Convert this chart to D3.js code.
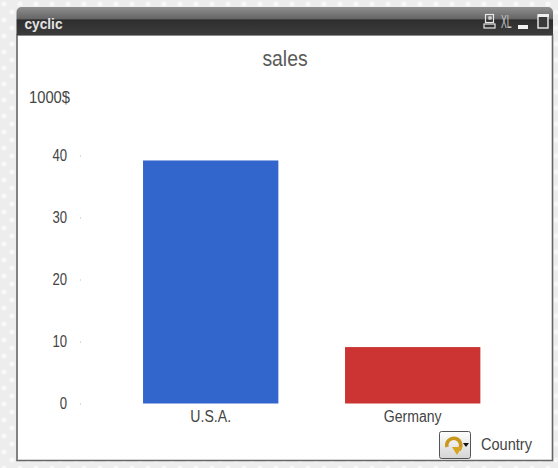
<!DOCTYPE html>
<html>
<head>
<meta charset="utf-8">
<script src="https://cdn.jsdelivr.net/npm/d3@7/dist/d3.min.js"></script>
<style>
html,body{margin:0;padding:0;background:#eeeeee;overflow:hidden}
svg{display:block}
text{font-family:"Liberation Sans",Arial,sans-serif}
</style>
</head>
<body>
<svg id="chart" width="558" height="468"></svg>
<script>
const categories = ["U.S.A.", "Germany"];
const salesValues = [39.2, 9.1];
const barColors = ["#3366cc", "#cc3333"];
const yTicks = [0, 10, 20, 30, 40];
const chartTitle = "sales";
const yUnit = "1000$";
const windowCaption = "cyclic";
const cycleField = "Country";

const svg = d3.select("#chart");
const defs = svg.append("defs");

// Narrow the glyphs of a selection of labels to a share of their natural width
function condense(sel, share) {
  sel.each(function () {
    const w = this.getComputedTextLength();
    d3.select(this).attr("textLength", w * share).attr("lengthAdjust", "spacingAndGlyphs");
  });
}

// Dotted page backdrop
const dots = defs.append("pattern").attr("id", "dots").attr("patternUnits", "userSpaceOnUse")
  .attr("width", 16).attr("height", 16);
dots.append("rect").attr("width", 16).attr("height", 16).attr("fill", "#ededed");
dots.append("circle").attr("cx", 4).attr("cy", 4).attr("r", 2.6).attr("fill", "#f8f8f8");
dots.append("circle").attr("cx", 12).attr("cy", 12).attr("r", 2.6).attr("fill", "#f8f8f8");
svg.append("rect").attr("width", 558).attr("height", 468).attr("fill", "url(#dots)");

// Caption bar gradient: pale sheen on top, near-black lower half
const grad = defs.append("linearGradient").attr("id", "caption").attr("x1", 0).attr("x2", 0).attr("y1", 0).attr("y2", 1);
[[0, "#8f8f8f"], [0.42, "#666666"], [0.46, "#2e2e2e"], [1, "#3c3c3c"]].forEach(([o, c]) =>
  grad.append("stop").attr("offset", o).attr("stop-color", c));

// Window body and frame
svg.append("path").attr("d", "M17,35V460.5H552.5V35Z")
  .attr("fill", "#fff").attr("stroke", "#666").attr("stroke-width", 1.6);
svg.append("path").attr("d", "M16.5,35V12a5,5 0 0 1 5,-5H548a5,5 0 0 1 5,5V35Z").attr("fill", "url(#caption)");
svg.append("text").attr("x", 24.5).attr("y", 29).attr("fill", "#e4e4e4")
  .attr("font-size", 15).attr("font-weight", "bold").attr("font-family", "'DejaVu Sans',sans-serif")
  .attr("textLength", 38).attr("lengthAdjust", "spacingAndGlyphs").text(windowCaption);

// Caption buttons
const icons = svg.append("g").attr("fill", "none").attr("stroke", "#e6e6e6").attr("stroke-width", 1.2);
icons.append("rect").attr("x", 485.5).attr("y", 14.5).attr("width", 8).attr("height", 8);
icons.append("rect").attr("x", 484).attr("y", 24).attr("width", 11).attr("height", 4);
icons.append("rect").attr("x", 489).attr("y", 17).attr("width", 2).attr("height", 2);
svg.append("text").attr("transform", "translate(501,28) scale(0.62,1.28)").attr("fill", "#c4c4c4")
  .attr("font-size", 14).text("XL");
svg.append("rect").attr("x", 518).attr("y", 25).attr("width", 10).attr("height", 4).attr("fill", "#f2f2f2");
svg.append("rect").attr("x", 538).attr("y", 15).attr("width", 10).attr("height", 13)
  .attr("fill", "#3a3a3a").attr("stroke", "#eee").attr("stroke-width", 1.4);
svg.append("rect").attr("x", 538).attr("y", 14).attr("width", 11).attr("height", 3).attr("fill", "#eee");

// Scales
const y = d3.scaleLinear().domain([0, 40]).range([403.5, 155.5]);
const x = d3.scaleBand().domain(categories).range([109.7, 513.7]).paddingInner(0.33).paddingOuter(0.165);

// Title and unit label
svg.append("text").attr("x", 285).attr("y", 66).attr("text-anchor", "middle")
  .attr("font-size", 22).attr("fill", "#5a5a5a").text(chartTitle).call(condense, 0.88);
svg.append("text").attr("x", 29).attr("y", 103).attr("font-size", 16).attr("fill", "#444")
  .attr("textLength", 41).attr("lengthAdjust", "spacingAndGlyphs").text(yUnit);

// Bars
svg.append("g").selectAll("rect").data(categories).join("rect")
  .attr("x", d => x(d)).attr("width", x.bandwidth())
  .attr("y", (d, i) => y(salesValues[i]))
  .attr("height", (d, i) => y(0) - y(salesValues[i]))
  .attr("fill", (d, i) => barColors[i]);

// Value axis
const yAxis = svg.append("g").attr("transform", "translate(81,0)")
  .call(d3.axisLeft(y).tickValues(yTicks).tickSize(1).tickPadding(13));
yAxis.select(".domain").remove();
yAxis.selectAll("line").attr("stroke", "#bbb");
yAxis.selectAll("text").attr("font-size", 16).attr("fill", "#444").call(condense, 0.82);

// Category axis
const xAxis = svg.append("g").attr("transform", "translate(0,403.5)")
  .call(d3.axisBottom(x).tickSize(0).tickPadding(7));
xAxis.select(".domain").remove();
xAxis.selectAll("text").attr("font-size", 16).attr("fill", "#444").call(condense, 0.88);

// Cycle-group control
const ctl = svg.append("g");
const btn = defs.append("linearGradient").attr("id", "btn").attr("x1", 0).attr("x2", 0).attr("y1", 0).attr("y2", 1);
btn.append("stop").attr("offset", 0).attr("stop-color", "#ffffff");
btn.append("stop").attr("offset", 1).attr("stop-color", "#d4d4d4");
ctl.append("rect").attr("x", 439.5).attr("y", 431.5).attr("width", 31).attr("height", 27).attr("rx", 2)
  .attr("fill", "url(#btn)").attr("stroke", "#555");
ctl.append("path").attr("d", "M447,447a7,7 0 1 1 12,3").attr("fill", "none").attr("stroke", "#c9971c").attr("stroke-width", 3.5);
ctl.append("path").attr("d", "M452,447h10l-5,8Z").attr("fill", "#d9a520");
ctl.append("path").attr("d", "M463,443h6l-3,4Z").attr("fill", "#111");
svg.append("text").attr("x", 481).attr("y", 450).attr("font-size", 16).attr("fill", "#444")
  .attr("textLength", 51).attr("lengthAdjust", "spacingAndGlyphs").text(cycleField);
</script>
</body>
</html>
